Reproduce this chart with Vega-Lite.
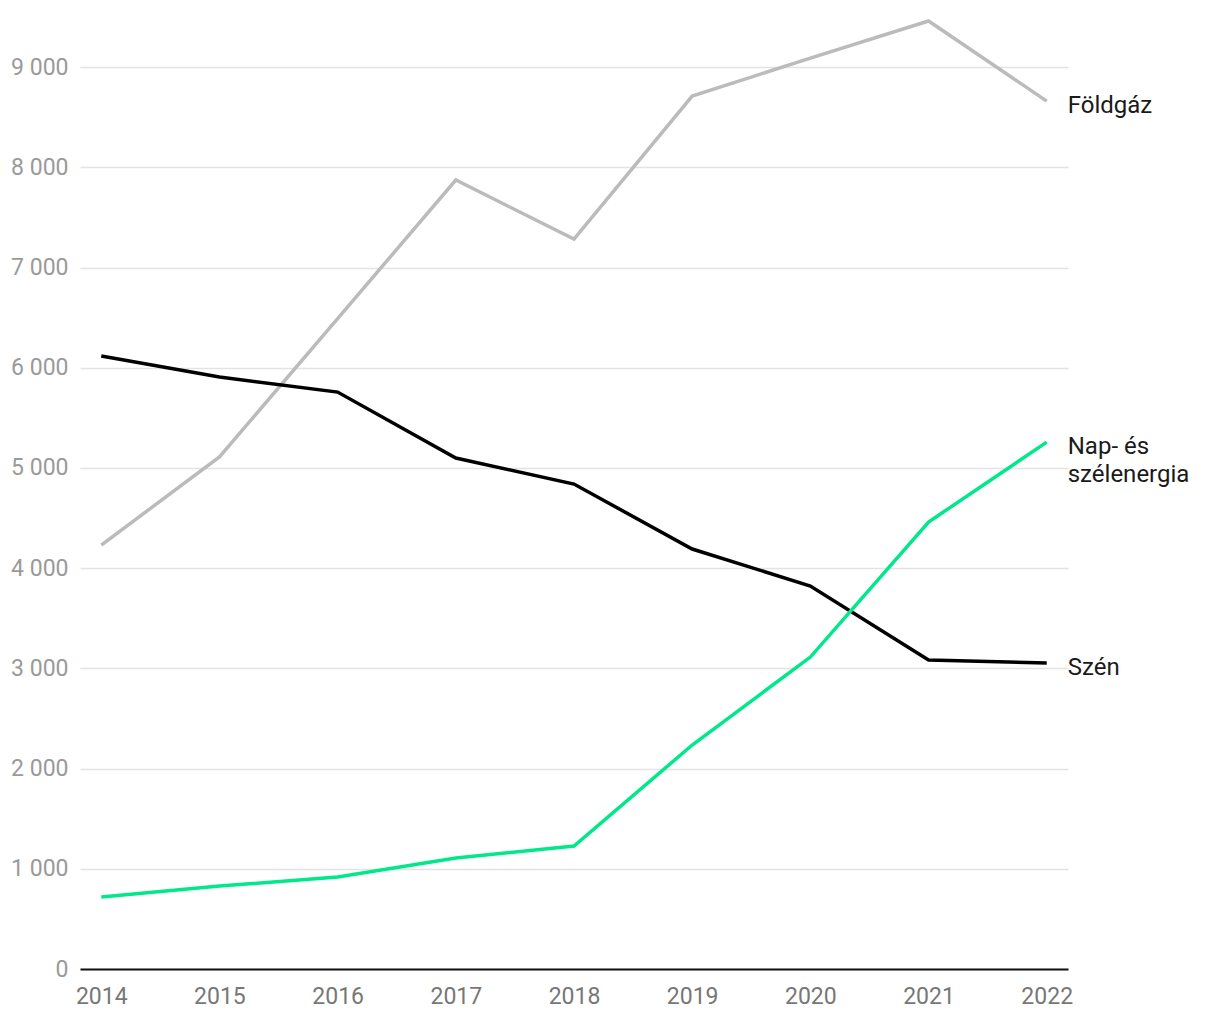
{
  "$schema": "https://vega.github.io/schema/vega-lite/v6.json",
  "width": 988,
  "height": 952,
  "autosize": {"type": "none"},
  "padding": {"left": 80, "top": 17, "right": 152, "bottom": 51},
  "background": "white",
  "config": {
    "view": {"stroke": null},
    "font": "Roboto"
  },
  "data": {
    "values": [
      {"year": "2014", "series": "Földgáz", "value": 4230},
      {"year": "2015", "series": "Földgáz", "value": 5110},
      {"year": "2016", "series": "Földgáz", "value": 6490},
      {"year": "2017", "series": "Földgáz", "value": 7873},
      {"year": "2018", "series": "Földgáz", "value": 7284},
      {"year": "2019", "series": "Földgáz", "value": 8711},
      {"year": "2020", "series": "Földgáz", "value": 9090},
      {"year": "2021", "series": "Földgáz", "value": 9460},
      {"year": "2022", "series": "Földgáz", "value": 8661, "label": "Földgáz"},
      {"year": "2014", "series": "Szén", "value": 6117},
      {"year": "2015", "series": "Szén", "value": 5907},
      {"year": "2016", "series": "Szén", "value": 5757},
      {"year": "2017", "series": "Szén", "value": 5099},
      {"year": "2018", "series": "Szén", "value": 4839},
      {"year": "2019", "series": "Szén", "value": 4191},
      {"year": "2020", "series": "Szén", "value": 3822},
      {"year": "2021", "series": "Szén", "value": 3083},
      {"year": "2022", "series": "Szén", "value": 3053, "label": "Szén"},
      {"year": "2014", "series": "Nap- és szélenergia", "value": 718},
      {"year": "2015", "series": "Nap- és szélenergia", "value": 828},
      {"year": "2016", "series": "Nap- és szélenergia", "value": 918},
      {"year": "2017", "series": "Nap- és szélenergia", "value": 1108},
      {"year": "2018", "series": "Nap- és szélenergia", "value": 1227},
      {"year": "2019", "series": "Nap- és szélenergia", "value": 2235},
      {"year": "2020", "series": "Nap- és szélenergia", "value": 3113},
      {"year": "2021", "series": "Nap- és szélenergia", "value": 4460},
      {"year": "2022", "series": "Nap- és szélenergia", "value": 5258, "label": "Nap- és\nszélenergia"}
    ]
  },
  "encoding": {
    "x": {
      "field": "year",
      "type": "ordinal",
      "scale": {"type": "point", "padding": 0.18},
      "axis": {
        "title": null,
        "labelAngle": 0,
        "ticks": false,
        "domain": true,
        "domainColor": "#111111",
        "domainWidth": 2,
        "grid": false,
        "labelFontSize": 23,
        "labelColor": "#777777",
        "labelPadding": 16,
        "labelFont": "Roboto"
      }
    },
    "y": {
      "field": "value",
      "type": "quantitative",
      "scale": {"domain": [0, 9500], "nice": false},
      "axis": {
        "title": null,
        "values": [0, 1000, 2000, 3000, 4000, 5000, 6000, 7000, 8000, 9000],
        "ticks": false,
        "domain": false,
        "grid": true,
        "gridColor": "#e3e3e3",
        "gridWidth": 1.5,
        "labelFontSize": 23,
        "labelColor": "#9a9a9a",
        "labelPadding": 12,
        "labelFont": "Roboto",
        "labelExpr": "replace(format(datum.value, ','), ',', ' ')"
      }
    },
    "color": {
      "field": "series",
      "type": "nominal",
      "scale": {
        "domain": ["Földgáz", "Szén", "Nap- és szélenergia"],
        "range": ["#bbbbbb", "#000000", "#00e88a"]
      },
      "legend": null
    }
  },
  "layer": [
    {
      "mark": {"type": "line", "strokeWidth": 3.5, "strokeJoin": "miter"}
    },
    {
      "transform": [{"filter": "datum.label != null"}],
      "mark": {
        "type": "text",
        "align": "left",
        "baseline": "alphabetic",
        "dx": 21,
        "dy": 12,
        "fontSize": 24,
        "lineHeight": 28,
        "lineBreak": "\n",
        "color": "#1a1a1a",
        "font": "Roboto"
      },
      "encoding": {
        "text": {"field": "label"},
        "color": {"value": "#1a1a1a"}
      }
    }
  ]
}
